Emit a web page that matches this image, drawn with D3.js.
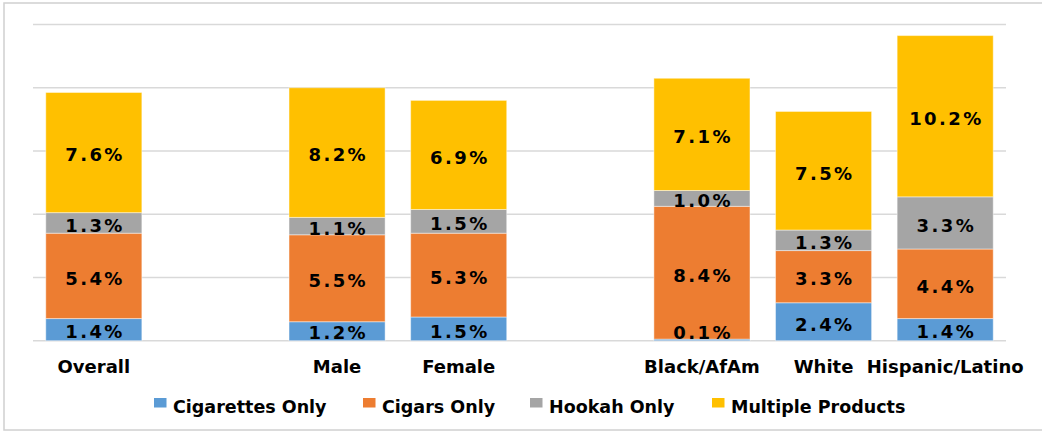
<!DOCTYPE html>
<html>
<head>
<meta charset="utf-8">
<script src="https://cdn.jsdelivr.net/npm/d3@7"></script>
<style>
  html, body { margin: 0; padding: 0; background: #fff; }
  svg { display: block; }
  text { font-family: "DejaVu Sans", Verdana, sans-serif; font-weight: bold; fill: #000; }
</style>
</head>
<body>
<svg id="chart" width="1042" height="431"></svg>
<script>
// ---- data ----
const slots = ["Overall", "gap1", "Male", "Female", "gap2", "Black/AfAm", "White", "Hispanic/Latino"];
const categories = ["Overall", "Male", "Female", "Black/AfAm", "White", "Hispanic/Latino"];
const seriesNames = ["Cigarettes Only", "Cigars Only", "Hookah Only", "Multiple Products"];
const cigarettesOnly = [1.4, 1.2, 1.5, 0.1, 2.4, 1.4];
const cigarsOnly = [5.4, 5.5, 5.3, 8.4, 3.3, 4.4];
const hookahOnly = [1.3, 1.1, 1.5, 1.0, 1.3, 3.3];
const multipleProducts = [7.6, 8.2, 6.9, 7.1, 7.5, 10.2];
const yTicks = [0, 4, 8, 12, 16, 20];
const colors = ["#5B9BD5", "#ED7D31", "#A5A5A5", "#FFC000"];

const seriesValues = [cigarettesOnly, cigarsOnly, hookahOnly, multipleProducts];
const table = categories.map((c, i) => {
  const row = { category: c };
  seriesNames.forEach((s, k) => row[s] = seriesValues[k][i]);
  return row;
});

const svg = d3.select("#chart");

// frame
svg.append("rect").attr("x", 4).attr("y", 3).attr("width", 1050).attr("height", 427)
  .attr("fill", "none").attr("stroke", "#d0d0d0").attr("stroke-width", 1.5);

const x = d3.scaleBand().domain(slots).range([33, 1006]).paddingInner(0.21).paddingOuter(0.105);
const y = d3.scaleLinear().domain([0, 20]).range([340.7, 24.5]);

// gridlines
svg.append("g").selectAll("line").data(yTicks).join("line")
  .attr("x1", 33).attr("x2", 1006)
  .attr("y1", d => y(d)).attr("y2", d => y(d))
  .attr("stroke", "#d9d9d9").attr("stroke-width", 1.5);

const stack = d3.stack().keys(seriesNames)(table);

const layers = svg.append("g").selectAll("g").data(stack).join("g")
  .attr("fill", (d, i) => colors[i]);

layers.selectAll("rect").data(d => d).join("rect")
  .attr("x", d => x(d.data.category))
  .attr("width", x.bandwidth())
  .attr("y", d => y(d[1]))
  .attr("height", d => y(d[0]) - y(d[1]))
  .attr("stroke", "rgba(255,255,255,0.45)")
  .attr("stroke-width", 1);

// data labels
const labels = svg.append("g");
stack.forEach(layer => {
  layer.forEach(d => {
    const v = d[1] - d[0];
    const cy = (y(d[0]) + y(d[1])) / 2 + 8.8;
    labels.append("text")
      .attr("x", x(d.data.category) + x.bandwidth() / 2 + 1.2)
      .attr("y", Math.min(cy, y(0) - 1.5))
      .attr("text-anchor", "middle")
      .attr("font-size", 18)
      .attr("letter-spacing", 2.4)
      .text(v.toFixed(1) + "%");
  });
});

// x axis labels
const xAxis = d3.axisBottom(x).tickSize(0).tickPadding(0)
  .tickFormat(d => categories.includes(d) ? d : "");
const gx = svg.append("g").attr("transform", `translate(0, ${y(0)})`).call(xAxis);
gx.select(".domain").remove();
gx.selectAll("text")
  .attr("y", 32.5).attr("dy", 0)
  .attr("font-size", 18)
  .attr("font-family", '"DejaVu Sans", Verdana, sans-serif')
  .attr("font-weight", "bold")
  .attr("fill", "#000");

// legend
const legendX = [154, 363, 530, 712];
const legend = svg.append("g");
seriesNames.forEach((s, i) => {
  legend.append("rect").attr("x", legendX[i]).attr("y", 398).attr("width", 12.5).attr("height", 9.5)
    .attr("fill", colors[i]);
  legend.append("text").attr("x", legendX[i] + 19).attr("y", 413)
    .attr("font-size", 17.5).text(s);
});
</script>
</body>
</html>
